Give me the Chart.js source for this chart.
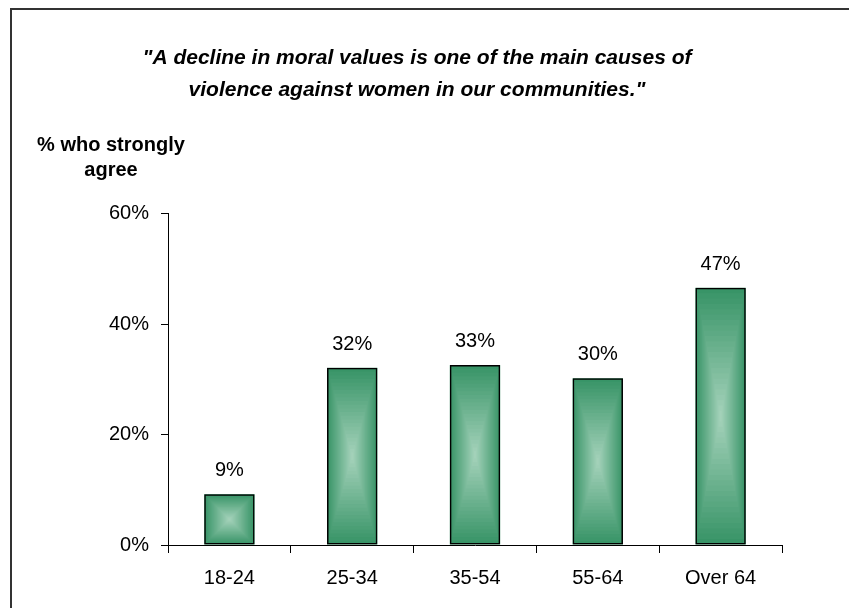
<!DOCTYPE html>
<html>
<head>
<meta charset="utf-8">
<script src="https://cdn.jsdelivr.net/npm/chart.js@4"></script>
<style>
  html, body { margin: 0; padding: 0; background: #fff; }
  #frame { position: absolute; left: 10px; top: 8px; width: 839px; height: 600px;
           border-top: 2px solid #333; border-left: 2px solid #333; }
  #wrap { width: 837px; height: 598px; }
</style>
</head>
<body>
<div id="frame"><div id="wrap"><canvas id="chart"></canvas></div></div>
<script>
var ageGroups = ['18-24', '25-34', '35-54', '55-64', 'Over 64'];
var stronglyAgree = [9.2, 32.1, 32.6, 30.2, 46.6];
var valueLabels = ['9%', '32%', '33%', '30%', '47%'];
var yTicks = [0, 20, 40, 60];
var titleLines = ['"A decline in moral values is one of the main causes of',
                  'violence against women in our communities."'];
var axisTitleLines = ['% who strongly', 'agree'];

var fontFamily = "'Liberation Sans', Arial, sans-serif";
var edgeGreen = [56, 148, 103];
var centreGreen = [168, 212, 189];

// "from centre" fill: concentric rectangles inside each bar
var gradientBars = {
  id: 'gradientBars',
  beforeDatasetsDraw: function(chart) {
    var ctx = chart.ctx;
    chart.getDatasetMeta(0).data.forEach(function(bar) {
      var p = bar.getProps(['x', 'y', 'base', 'width'], true);
      var left = p.x - p.width / 2, top = Math.min(p.y, p.base);
      var w = p.width, h = Math.abs(p.base - p.y);
      var steps = 24;
      ctx.save();
      for (var i = 0; i < steps; i++) {
        var t = i / steps;
        var c = edgeGreen.map(function(e, k) { return Math.round(e + (centreGreen[k] - e) * t); });
        ctx.fillStyle = 'rgb(' + c.join(',') + ')';
        ctx.fillRect(left + t * w / 2, top + t * h / 2, w * (1 - t), h * (1 - t));
      }
      ctx.restore();
    });
  }
};

var barLabels = {
  id: 'barLabels',
  afterDatasetsDraw: function(chart) {
    var ctx = chart.ctx;
    ctx.save();
    ctx.font = '20px ' + fontFamily;
    ctx.fillStyle = '#000';
    ctx.textAlign = 'center';
    ctx.textBaseline = 'alphabetic';
    chart.getDatasetMeta(0).data.forEach(function(bar, i) {
      ctx.fillText(valueLabels[i], bar.x, bar.y - 18);
    });
    ctx.restore();
  }
};

var axisTitle = {
  id: 'axisTitle',
  afterDraw: function(chart) {
    var ctx = chart.ctx;
    ctx.save();
    ctx.font = 'bold 20px ' + fontFamily;
    ctx.fillStyle = '#000';
    ctx.textAlign = 'center';
    ctx.textBaseline = 'middle';
    axisTitleLines.forEach(function(line, i) {
      ctx.fillText(line, 99, 135 + i * 25);
    });
    ctx.restore();
  }
};

new Chart(document.getElementById('chart'), {
  type: 'bar',
  data: {
    labels: ageGroups,
    datasets: [{
      data: stronglyAgree,
      backgroundColor: 'rgba(0,0,0,0)',
      borderColor: '#000',
      borderWidth: 1.5,
      borderSkipped: false,
      categoryPercentage: 1,
      barPercentage: 0.41
    }]
  },
  options: {
    responsive: true,
    maintainAspectRatio: false,
    animation: false,
    layout: { padding: { left: 40, right: 67, top: 0, bottom: 0 } },
    plugins: {
      legend: { display: false },
      tooltip: { enabled: false },
      title: {
        display: true,
        text: titleLines,
        color: '#000',
        font: { family: fontFamily, size: 21, weight: 'bold', style: 'italic', lineHeight: 1.52 },
        padding: { top: 32, bottom: 108 }
      }
    },
    scales: {
      x: {
        afterFit: function(s) { s.height = 63; },
        grid: { drawOnChartArea: false, drawTicks: true, tickLength: 8, color: '#000', offset: true },
        border: { display: true, color: '#000', width: 1 },
        ticks: { color: '#000', padding: 13, font: { family: fontFamily, size: 20 } }
      },
      y: {
        min: 0,
        max: 60,
        afterFit: function(s) { s.width = 116; },
        afterBuildTicks: function(s) { s.ticks = yTicks.map(function(v) { return { value: v }; }); },
        grid: { drawOnChartArea: false, drawTicks: true, tickLength: 7, color: '#000' },
        border: { display: true, color: '#000', width: 1 },
        ticks: {
          color: '#000',
          padding: 12,
          font: { family: fontFamily, size: 20 },
          callback: function(v) { return v + '%'; }
        }
      }
    }
  },
  plugins: [gradientBars, barLabels, axisTitle]
});
</script>
</body>
</html>
